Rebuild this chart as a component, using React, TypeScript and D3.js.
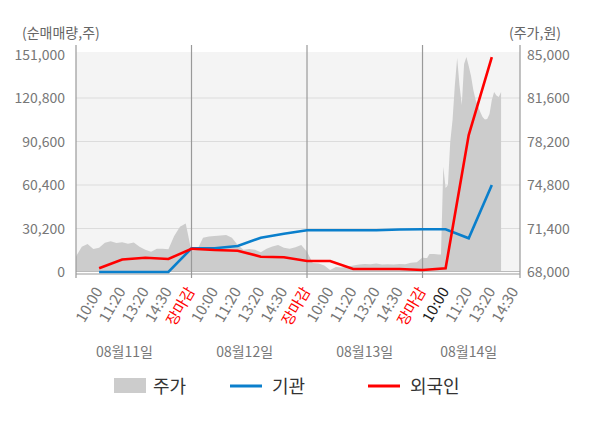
import * as d3 from "d3";

// 시간 축 라벨 (하루 5칸)
const timeLabels = ["10:00", "11:20", "13:20", "14:30", "장마감"];
const dateLabels = ["08월11일", "08월12일", "08월13일", "08월14일"];
const dateSlots = [2.1, 7.3, 12.5, 17.0];

// 주가 (원) - 1~3일은 0.25칸 간격, 4일은 0.1칸 간격
const priceDay1 = [69220, 69970, 70180, 69790, 69890, 70280, 70410, 70260, 70320, 70200, 70300, 69970, 69740, 69580, 69820, 69820, 69780, 70820, 71540, 71790];
const priceDay2 = [69610, 69740, 70670, 70780, 70820, 70860, 70900, 70670, 70120, 69740, 69790, 69740, 69550, 69820, 69990, 70120, 69890, 69820, 69930, 70120];
const priceDay3 = [69580, 68700, 68660, 68500, 68150, 68400, 68350, 68420, 68500, 68580, 68620, 68600, 68660, 68580, 68600, 68580, 68620, 68600, 68730, 68760];
const priceDay4 = [69130, 69090, 69090, 69410, 69410, 69410, 69380, 69370, 69370, 76230, 74570, 74800, 78160, 79880, 82620, 84730, 82620, 81050, 84260, 84800, 84100, 83320, 82230, 81440, 80970, 80510, 80110, 79920, 79960, 80350, 81440, 82070, 81800, 81680, 82070];

// 순매매량 (주) - 라벨 위치마다
const institution = [0, 0, 0, 0, 16460, 16460, 18050, 23810, 26590, 28950, 28950, 28950, 28950, 29510, 29650, 29650, 23400, 60400];
const foreigner = [2570, 8680, 9930, 9030, 16180, 15270, 14790, 10620, 10210, 7640, 7640, 2080, 2080, 2080, 1390, 2570, 95100, 149100];

const leftTicks = [0, 30200, 60400, 90600, 120800, 151000];
const rightTicks = [68000, 71400, 74800, 78200, 81600, 85000];

const FONT = "'Noto Sans CJK KR', 'Noto Sans', sans-serif";

export default function App() {
  const left = 76, right = 520, top = 54.5, bottom = 272;
  const x = d3.scaleLinear().domain([0, 19.22]).range([left, right]);
  const yL = d3.scaleLinear().domain([0, 151000]).range([bottom, top]);
  const yR = d3.scaleLinear().domain([68000, 85000]).range([bottom, top]);

  const pricePts: [number, number][] = [];
  [priceDay1, priceDay2, priceDay3].forEach((arr, d) =>
    arr.forEach((v, i) => pricePts.push([d * 5 + i * 0.25, v]))
  );
  priceDay4.forEach((v, i) => pricePts.push([15 + i * 0.1, v]));

  const area = d3.area<[number, number]>()
    .x(d => x(d[0]))
    .y0(bottom)
    .y1(d => yR(d[1]));

  const line = d3.line<number>()
    .x((_, i) => x(i + 1))
    .y(d => yL(d));

  const ticks: { k: number; label: string; color: string }[] = [];
  dateLabels.forEach((_, d) => {
    timeLabels.forEach((t, j) => {
      if (d === 3 && j === 4) return;
      const color = j === 4 ? "#ff0000" : d === 3 && j === 0 ? "#222" : "#777";
      ticks.push({ k: d * 5 + j + 1, label: t, color });
    });
  });

  return (
    <svg width={600} height={428} style={{ position: "absolute", left: 0, top: 0, fontFamily: FONT }}>
      <rect width={600} height={428} fill="#fff" />
      <rect x={left} y={52} width={right - left} height={bottom - 52} fill="#f4f4f4" />
      {leftTicks.slice(1, -1).map(t => (
        <line key={t} x1={left} x2={right} y1={yL(t)} y2={yL(t)} stroke="#dcdcdc" strokeWidth={1} />
      ))}
      <path d={area(pricePts) || ""} fill="#cccccc" />
      <line x1={left} x2={right} y1={bottom - 0.5} y2={bottom - 0.5} stroke="#bbb" strokeWidth={1} />
      <line x1={left} x2={right} y1={274} y2={274} stroke="#999" strokeWidth={1.2} />
      {[0, 5, 10, 15, 19.22].map(k => (
        <line key={k} x1={x(k)} x2={x(k)} y1={45} y2={278} stroke="#999" strokeWidth={1.2} />
      ))}
      <path d={line(institution) || ""} fill="none" stroke="#0a7fcc" strokeWidth={2.6} />
      <path d={line(foreigner) || ""} fill="none" stroke="#ff0000" strokeWidth={2.6} />

      <text x={22} y={38} fontSize={14} fill="#666">(순매매량,주)</text>
      <text x={509} y={38} fontSize={14} fill="#666">(주가,원)</text>
      {leftTicks.map(t => (
        <text key={t} x={65} y={yL(t) + 5} fontSize={14} fill="#777" textAnchor="end">
          {d3.format(",")(t)}
        </text>
      ))}
      {rightTicks.map(t => (
        <text key={t} x={527} y={yR(t) + 5} fontSize={14} fill="#777">
          {d3.format(",")(t)}
        </text>
      ))}
      {ticks.map(t => (
        <text key={t.k} x={0} y={0} fontSize={15} fill={t.color} textAnchor="end"
          transform={`translate(${x(t.k) + 4},291) rotate(-60)`}>
          {t.label}
        </text>
      ))}
      {dateLabels.map((d, i) => (
        <text key={d} x={x(dateSlots[i])} y={357} fontSize={14} fill="#777" textAnchor="middle">{d}</text>
      ))}

      <rect x={114} y={378} width={32} height={15} fill="#cccccc" />
      <text x={153} y={393} fontSize={18} fill="#333">주가</text>
      <line x1={230} x2={262} y1={386} y2={386} stroke="#0a7fcc" strokeWidth={3} />
      <text x={272} y={393} fontSize={18} fill="#333">기관</text>
      <line x1={368} x2={400} y1={386} y2={386} stroke="#ff0000" strokeWidth={3} />
      <text x={410} y={393} fontSize={18} fill="#333">외국인</text>
    </svg>
  );
}
